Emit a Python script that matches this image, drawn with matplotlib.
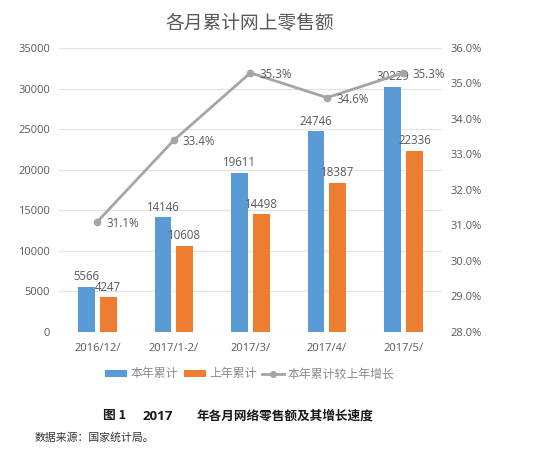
import matplotlib
matplotlib.use("Agg")
import matplotlib.pyplot as plt
import numpy as np
from matplotlib.patches import Patch
from matplotlib.lines import Line2D

plt.rcParams['font.family'] = ['Open Sans', 'Noto Sans CJK SC', 'DejaVu Sans']

categories = ["2016/12/", "2017/1-2/", "2017/3/", "2017/4/", "2017/5/"]
this_year = [5566, 14146, 19611, 24746, 30229]
last_year = [4247, 10608, 14498, 18387, 22336]
growth = [31.1, 33.4, 35.3, 34.6, 35.3]
left_ticks = [0, 5000, 10000, 15000, 20000, 25000, 30000, 35000]
right_ticks = [28.0, 29.0, 30.0, 31.0, 32.0, 33.0, 34.0, 35.0, 36.0]

title = "各月累计网上零售额"
legend_labels = ["本年累计", "上年累计", "本年累计较上年增长"]
caption_num = "图 1"
caption_year = "2017"
caption = "年各月网络零售额及其增长速度"
source = "数据来源：国家统计局。"

BLUE = "#5B9BD5"
ORANGE = "#ED7D31"
GRAY = "#A5A5A5"
TXT = "#595959"
CJK = ['Noto Sans CJK SC', 'DejaVu Sans']

fig = plt.figure(figsize=(5.58, 4.49), dpi=100)
ax = fig.add_axes([0.1057, 0.2613, 0.686, 0.6318])
x = np.arange(len(categories))
w = 0.22
off = 0.142
ax.bar(x - off, this_year, w, color=BLUE, zorder=3)
ax.bar(x + off, last_year, w, color=ORANGE, zorder=3)
ax.set_xlim(-0.5, len(categories) - 0.5)
ax.set_ylim(0, 35000)
ax.set_yticks(left_ticks)
ax.set_yticklabels([str(v) for v in left_ticks])
ax.set_xticks(x)
ax.set_xticklabels(categories)
ax.grid(axis='y', color="#E3E3E3", linewidth=0.9, zorder=0)
ax.set_axisbelow(True)
for s in ax.spines.values():
    s.set_visible(False)
ax.tick_params(axis='both', length=0, labelsize=8, labelcolor=TXT)
ax.tick_params(axis='y', pad=6.5)
ax.tick_params(axis='x', pad=8)

for xi, v in zip(x - off, this_year):
    ax.annotate(str(v), (xi, v), xytext=(0, 2.5), textcoords='offset points',
                ha='center', va='bottom', fontsize=8.3, color=TXT, zorder=5)
for xi, v in zip(x + off, last_year):
    ax.annotate(str(v), (xi, v), xytext=(0, 2.5), textcoords='offset points',
                ha='center', va='bottom', fontsize=8.3, color=TXT, zorder=5)

ax2 = ax.twinx()
ax2.set_ylim(28, 36)
ax2.set_yticks(right_ticks)
ax2.set_yticklabels([f"{v:.1f}%" for v in right_ticks])
for s in ax2.spines.values():
    s.set_visible(False)
ax2.tick_params(axis='y', length=0, labelsize=8, labelcolor=TXT, pad=6)
ax2.plot(x, growth, color=GRAY, linewidth=2, marker='o', markersize=4.5,
         markerfacecolor=GRAY, markeredgecolor=GRAY, zorder=4)
for xi, v in zip(x, growth):
    ax2.annotate(f"{v:.1f}%", (xi, v), xytext=(6.5, -1), textcoords='offset points',
                 ha='left', va='center', fontsize=8.3, color=TXT, zorder=6)

fig.text(250 / 558, 1 - 23 / 449, title, ha='center', va='center',
         fontsize=13.5, color=TXT, family=CJK)

handles = [Patch(facecolor=BLUE, edgecolor='none'),
           Patch(facecolor=ORANGE, edgecolor='none'),
           Line2D([0], [0], color=GRAY, linewidth=2, marker='o', markersize=4)]
fig.legend(handles, legend_labels, loc='center', bbox_to_anchor=(250 / 558, 1 - 374 / 449),
           ncol=3, frameon=False, prop={'family': CJK, 'size': 8.6},
           labelcolor="#8C8C8C", handlelength=1.85, handleheight=0.5,
           handletextpad=0.3, columnspacing=0.45, borderpad=0)

cy = 1 - 416 / 449
fig.text(103 / 558, cy, caption_num, ha='left', va='center',
         fontsize=9.2, color="#1a1a1a", family=CJK, fontweight='bold')
fig.text(143 / 558, cy, caption_year, ha='left', va='center',
         fontsize=9.6, color="#1a1a1a", family=['Open Sans', 'DejaVu Sans'], fontweight='bold')
fig.text(197 / 558, cy, caption, ha='left', va='center',
         fontsize=9.1, color="#1a1a1a", family=CJK, fontweight='bold')
fig.text(35 / 558, 1 - 438 / 449, source, ha='left', va='center',
         fontsize=7.8, color="#333333", family=CJK)

fig.savefig("out.png", dpi=100)
